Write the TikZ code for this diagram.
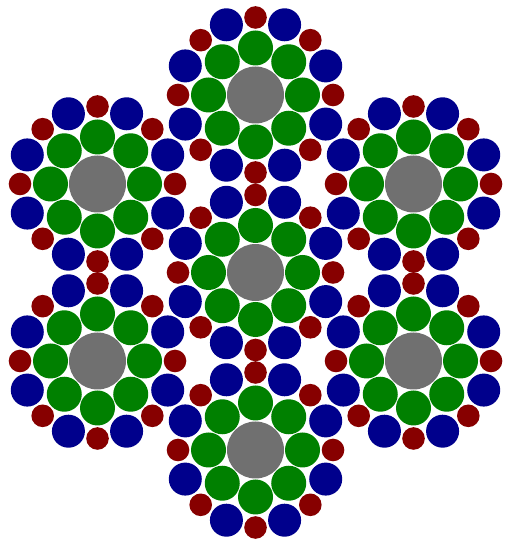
\documentclass[tikz,border=0pt]{standalone}
\usetikzlibrary{calc}
\definecolor{coregray}{RGB}{112,112,112}
\definecolor{wiregreen}{RGB}{0,128,0}
\definecolor{wireblue}{RGB}{0,0,140}
\definecolor{wirered}{RGB}{135,0,0}
\tikzset{
  corewire/.style={fill=coregray},
  innerwire/.style={fill=wiregreen},
  bigwire/.style={fill=wireblue},
  smallwire/.style={fill=wirered}
}
\begin{document}
\begin{tikzpicture}[x=1pt,y=1pt]
\useasboundingbox (0,0) rectangle (504,540);
\foreach \cx/\cy [count=\i] in {255.5/445, 255.5/267.5, 97.5/356, 413.5/356, 97.5/179, 413.5/179, 255.5/90}{
  \coordinate (s\i) at (\cx,\cy);
  \fill[corewire] (s\i) circle (28.5pt);
  \foreach \k in {0,...,7}{
    \fill[innerwire] ($(s\i)+(\k*45:47)$) circle (17.5pt);
    \fill[smallwire] ($(s\i)+(\k*45:77.5)$) circle (11.3pt);
    \fill[bigwire] ($(s\i)+(22.5+\k*45:76)$) circle (16.5pt);
  }
}
\end{tikzpicture}
\end{document}
